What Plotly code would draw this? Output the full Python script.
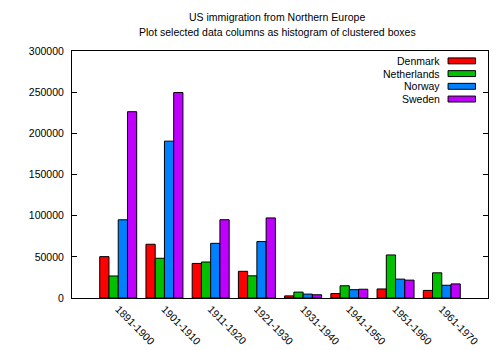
import plotly.graph_objects as go

periods = ["1891-1900", "1901-1910", "1911-1920", "1921-1930",
           "1931-1940", "1941-1950", "1951-1960", "1961-1970"]
denmark = [50231, 65285, 41983, 32430, 2559, 5393, 10984, 9201]
netherlands = [26758, 48262, 43718, 26948, 7150, 14860, 52277, 30606]
norway = [95015, 190505, 66395, 68531, 4740, 10100, 22935, 15484]
sweden = [226266, 249534, 95074, 97249, 3960, 10665, 21697, 17116]

series = [("Denmark", denmark, "#ff0000"),
          ("Netherlands", netherlands, "#00c000"),
          ("Norway", norway, "#0080ff"),
          ("Sweden", sweden, "#c000ff")]

title_lines = ["US immigration from Northern Europe",
               "Plot selected data columns as histogram of clustered boxes"]

FONT = "Liberation Sans, Arial, sans-serif"
xs = list(range(len(periods)))
PLOT_TOP, PLOT_H = 51, 247

fig = go.Figure()
for name, vals, col in series:
    fig.add_trace(go.Bar(x=xs, y=vals, name=name, marker_color=col,
                         marker_line_color="black", marker_line_width=1,
                         showlegend=False))

# title as two annotations (gnuplot line spacing)
for i, line in enumerate(title_lines):
    py = 17 + 15 * i
    fig.add_annotation(xref="paper", yref="paper", x=0.493,
                       y=1 + (PLOT_TOP - py) / PLOT_H,
                       text=line, showarrow=False, xanchor="center", yanchor="middle",
                       font=dict(family=FONT, size=10.5, color="black"))

# manual gnuplot-style legend (text right, swatch at right)
for i, (name, vals, col) in enumerate(series):
    yc = 0.96 - i * 0.0515
    fig.add_annotation(xref="paper", yref="paper", x=0.89, y=yc, text=name,
                       showarrow=False, xanchor="right", yanchor="middle",
                       font=dict(family=FONT, size=10.5, color="black"))
    fig.add_shape(type="rect", xref="paper", yref="paper",
                  x0=0.904, x1=0.970, y0=yc - 0.012, y1=yc + 0.012,
                  fillcolor=col, line=dict(color="black", width=1))

fig.update_layout(
    width=500, height=350,
    margin=dict(l=72, r=12, t=51, b=52),
    paper_bgcolor="white", plot_bgcolor="white",
    barmode="group", bargap=0.2, bargroupgap=0,
    font=dict(family=FONT, size=10.5, color="black"),
    xaxis=dict(range=[-1, 8], tickmode="array", tickvals=xs, ticktext=periods,
               tickangle=45, ticks="", showline=True, linecolor="black",
               linewidth=1, mirror=True, showgrid=False, zeroline=False,
               automargin=False),
    yaxis=dict(range=[0, 300000], tickmode="array",
               tickvals=[0, 50000, 100000, 150000, 200000, 250000, 300000],
               ticktext=["0", "50000", "100000", "150000", "200000", "250000", "300000"],
               ticks="inside", ticklen=5, tickcolor="black", showline=True,
               linecolor="black", linewidth=1, mirror="ticks", showgrid=False,
               zeroline=False, automargin=False, ticklabelstandoff=5),
)

fig.write_html("out.html")
